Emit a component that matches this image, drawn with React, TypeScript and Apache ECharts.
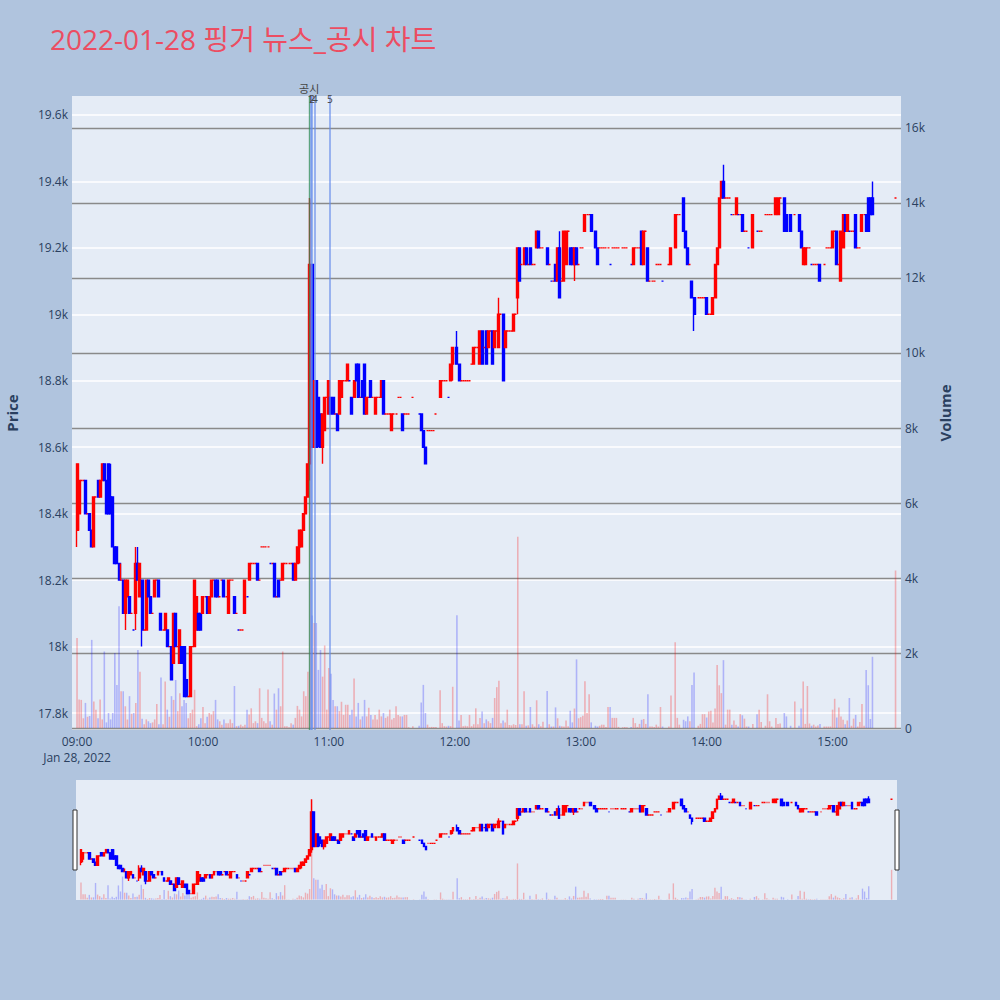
import React, { useEffect, useRef } from 'react';
import * as echarts from 'echarts';

const FONT = '"Open Sans", "Noto Sans CJK KR", sans-serif';

const chartTitle = '2022-01-28 핑거 뉴스_공시 차트';
const sessionDate = 'Jan 28, 2022';
const timeTicks = ['09:00', '10:00', '11:00', '12:00', '13:00', '14:00', '15:00'];
const priceTicks = [17800, 18000, 18200, 18400, 18600, 18800, 19000, 19200, 19400, 19600];
const volumeTicks = [0, 2000, 4000, 6000, 8000, 10000, 12000, 14000, 16000];

// one-minute bars: [time, open, close, low, high, volume]
type Bar = [string, number, number, number, number, number];

const bars0900: Bar[] = [
  ['09:00', 18350, 18550, 18300, 18550, 2400], ['09:01', 18400, 18500, 18350, 18500, 760],
  ['09:02', 18500, 18500, 18500, 18500, 750], ['09:03', 18500, 18500, 18500, 18500, 260],
  ['09:04', 18500, 18400, 18400, 18500, 670], ['09:05', 18400, 18400, 18400, 18400, 300],
  ['09:06', 18400, 18350, 18350, 18400, 320], ['09:07', 18350, 18300, 18300, 18350, 2350],
  ['09:08', 18300, 18450, 18300, 18450, 710], ['09:09', 18450, 18450, 18450, 18450, 490],
  ['09:10', 18500, 18450, 18450, 18500, 260], ['09:11', 18450, 18500, 18450, 18500, 760],
  ['09:12', 18500, 18550, 18500, 18550, 230], ['09:13', 18550, 18500, 18500, 18550, 2040],
  ['09:14', 18500, 18400, 18400, 18500, 150], ['09:15', 18550, 18400, 18400, 18550, 400],
  ['09:16', 18450, 18400, 18400, 18550, 230], ['09:17', 18450, 18300, 18300, 18450, 400],
  ['09:18', 18300, 18250, 18250, 18300, 2000], ['09:19', 18300, 18250, 18250, 18300, 1150],
  ['09:20', 18250, 18200, 18200, 18250, 3250], ['09:21', 18200, 18200, 18200, 18250, 980],
  ['09:22', 18200, 18100, 18100, 18200, 980], ['09:23', 18100, 18200, 18050, 18200, 580],
  ['09:24', 18150, 18200, 18150, 18200, 230], ['09:25', 18150, 18100, 18100, 18150, 850],
  ['09:26', 18100, 18100, 18100, 18100, 380], ['09:27', 18050, 18050, 18050, 18050, 400],
  ['09:28', 18100, 18250, 18050, 18300, 670], ['09:29', 18250, 18200, 18200, 18300, 2080],
  ['09:30', 18150, 18250, 18150, 18250, 1500], ['09:31', 18200, 18050, 18000, 18200, 250],
  ['09:32', 18050, 18050, 18050, 18050, 100], ['09:33', 18050, 18200, 18050, 18200, 230],
  ['09:34', 18200, 18150, 18150, 18200, 180], ['09:35', 18150, 18100, 18100, 18150, 130],
  ['09:36', 18100, 18100, 18100, 18100, 150], ['09:37', 18150, 18200, 18150, 18200, 230],
  ['09:38', 18200, 18200, 18200, 18200, 640], ['09:39', 18200, 18150, 18150, 18200, 100],
  ['09:40', 18100, 18050, 18050, 18100, 1350], ['09:41', 18050, 18050, 18050, 18050, 100],
  ['09:42', 18050, 18100, 18050, 18100, 1240], ['09:43', 18050, 18000, 18000, 18050, 490],
  ['09:44', 18000, 18000, 18000, 18000, 300], ['09:45', 18000, 17900, 17900, 18000, 850],
  ['09:46', 17950, 18100, 17950, 18100, 750], ['09:47', 18100, 18000, 18000, 18100, 1280],
  ['09:48', 18000, 18000, 18000, 18000, 450], ['09:49', 17950, 18050, 17950, 18050, 930],
  ['09:50', 18000, 17950, 17950, 18000, 580], ['09:51', 18000, 17850, 17850, 18000, 750],
  ['09:52', 17900, 17850, 17850, 17900, 670], ['09:53', 17850, 17850, 17850, 17850, 260],
  ['09:54', 17850, 18000, 17850, 18000, 400], ['09:55', 18000, 18000, 18000, 18000, 490],
  ['09:56', 18000, 18200, 18000, 18200, 1020], ['09:57', 18050, 18150, 18050, 18150, 50],
  ['09:58', 18100, 18050, 18050, 18100, 100], ['09:59', 18100, 18050, 18050, 18100, 260],
];

const bars1000: Bar[] = [
  ['10:00', 18100, 18150, 18100, 18150, 560], ['10:01', 18150, 18150, 18150, 18150, 130],
  ['10:02', 18150, 18100, 18100, 18150, 300], ['10:03', 18100, 18150, 18100, 18150, 400],
  ['10:04', 18150, 18200, 18150, 18200, 360], ['10:05', 18200, 18200, 18200, 18200, 450],
  ['10:06', 18200, 18150, 18150, 18200, 750], ['10:07', 18200, 18150, 18150, 18200, 230],
  ['10:08', 18150, 18150, 18150, 18150, 180], ['10:09', 18200, 18200, 18200, 18200, 90],
  ['10:10', 18200, 18150, 18150, 18200, 230], ['10:11', 18150, 18150, 18150, 18150, 130],
  ['10:12', 18100, 18200, 18100, 18200, 130], ['10:13', 18200, 18200, 18200, 18200, 230],
  ['10:14', 18200, 18200, 18200, 18200, 130], ['10:15', 18150, 18100, 18100, 18150, 1120],
  ['10:16', 18100, 18100, 18100, 18100, 50], ['10:17', 18050, 18050, 18050, 18050, 60],
  ['10:18', 18050, 18050, 18050, 18050, 90], ['10:19', 18050, 18050, 18050, 18050, 50],
  ['10:20', 18100, 18200, 18100, 18200, 90], ['10:21', 18150, 18150, 18150, 18150, 490],
  ['10:22', 18200, 18250, 18200, 18250, 360], ['10:23', 18250, 18250, 18250, 18250, 525],
  ['10:24', 18250, 18250, 18250, 18250, 130], ['10:25', 18250, 18250, 18250, 18250, 180],
  ['10:26', 18250, 18200, 18200, 18250, 130], ['10:27', 18200, 18200, 18200, 18200, 1060],
  ['10:28', 18300, 18300, 18300, 18300, 270], ['10:29', 18300, 18300, 18300, 18300, 180],
  ['10:30', 18300, 18300, 18300, 18300, 130], ['10:31', 18300, 18300, 18300, 18300, 1030],
  ['10:32', 18250, 18250, 18250, 18250, 180], ['10:33', 18250, 18250, 18250, 18250, 90],
  ['10:34', 18250, 18150, 18150, 18250, 920], ['10:35', 18150, 18150, 18150, 18150, 490],
  ['10:36', 18200, 18150, 18150, 18200, 1060], ['10:37', 18200, 18200, 18200, 18200, 580],
  ['10:38', 18200, 18250, 18200, 18250, 2040], ['10:39', 18250, 18250, 18250, 18250, 50],
  ['10:40', 18250, 18250, 18250, 18250, 50], ['10:41', 18250, 18250, 18250, 18250, 20],
  ['10:42', 18250, 18250, 18250, 18250, 130], ['10:43', 18250, 18200, 18200, 18250, 90],
  ['10:44', 18200, 18250, 18200, 18250, 270], ['10:45', 18250, 18300, 18250, 18300, 590],
  ['10:46', 18300, 18350, 18250, 18350, 490], ['10:47', 18300, 18350, 18300, 18350, 310],
  ['10:48', 18350, 18400, 18350, 18400, 980], ['10:49', 18400, 18450, 18400, 18450, 850],
  ['10:50', 18450, 18550, 18450, 18550, 1500], ['10:51', 18550, 19150, 18500, 19350, 14100],
  ['10:52', 19150, 18600, 18600, 19150, 3000], ['10:53', 18600, 18800, 18600, 18800, 2800],
  ['10:54', 18800, 18600, 18600, 18800, 2800], ['10:55', 18750, 18650, 18600, 18750, 1550],
  ['10:56', 18700, 18600, 18600, 18700, 2080], ['10:57', 18600, 18700, 18550, 18700, 1370],
  ['10:58', 18650, 18750, 18650, 18750, 2200], ['10:59', 18750, 18750, 18750, 18750, 490],
];

const bars1100: Bar[] = [
  ['11:00', 18700, 18800, 18700, 18800, 1600], ['11:01', 18750, 18700, 18700, 18750, 1450],
  ['11:02', 18750, 18700, 18700, 18750, 750], ['11:03', 18700, 18700, 18700, 18700, 580],
  ['11:04', 18700, 18650, 18650, 18700, 580], ['11:05', 18700, 18800, 18700, 18800, 450],
  ['11:06', 18750, 18800, 18750, 18800, 700], ['11:07', 18800, 18800, 18800, 18800, 350],
  ['11:08', 18800, 18800, 18800, 18800, 620], ['11:09', 18800, 18850, 18800, 18850, 620],
  ['11:10', 18800, 18800, 18800, 18800, 350], ['11:11', 18750, 18700, 18700, 18750, 490],
  ['11:12', 18750, 18800, 18750, 18800, 1320], ['11:13', 18850, 18800, 18800, 18850, 310],
  ['11:14', 18850, 18750, 18750, 18850, 670], ['11:15', 18750, 18750, 18750, 18750, 230],
  ['11:16', 18800, 18750, 18750, 18800, 310], ['11:17', 18850, 18700, 18700, 18850, 750],
  ['11:18', 18700, 18750, 18700, 18750, 310], ['11:19', 18750, 18750, 18750, 18750, 540],
  ['11:20', 18800, 18750, 18750, 18800, 350], ['11:21', 18750, 18750, 18750, 18750, 230],
  ['11:22', 18700, 18750, 18700, 18750, 350], ['11:23', 18750, 18750, 18750, 18750, 230],
  ['11:24', 18750, 18750, 18750, 18750, 490], ['11:25', 18750, 18800, 18750, 18800, 310],
  ['11:26', 18800, 18700, 18700, 18800, 400], ['11:27', 18700, 18700, 18700, 18700, 270],
  ['11:28', 18700, 18700, 18700, 18700, 310], ['11:29', 18700, 18700, 18700, 18700, 490],
  ['11:30', 18650, 18700, 18650, 18700, 230], ['11:31', 18700, 18700, 18700, 18700, 270],
  ['11:32', 18700, 18700, 18700, 18700, 580], ['11:33', 18750, 18750, 18750, 18750, 350],
  ['11:34', 18750, 18750, 18750, 18750, 310], ['11:35', 18700, 18650, 18650, 18700, 310],
  ['11:36', 18700, 18700, 18700, 18700, 350], ['11:37', 18700, 18700, 18700, 18700, 350],
  ['11:38', 18700, 18700, 18700, 18700, 20], ['11:40', 18750, 18750, 18750, 18750, 50],
  ['11:43', 18700, 18700, 18700, 18700, 60], ['11:44', 18700, 18650, 18650, 18700, 680],
  ['11:45', 18650, 18600, 18600, 18650, 1150], ['11:46', 18600, 18550, 18550, 18600, 400],
  ['11:47', 18650, 18650, 18650, 18650, 90], ['11:48', 18650, 18650, 18650, 18650, 20],
  ['11:49', 18650, 18650, 18650, 18650, 30], ['11:50', 18650, 18650, 18650, 18650, 30],
  ['11:51', 18700, 18700, 18700, 18700, 30], ['11:53', 18750, 18800, 18750, 18800, 1010],
  ['11:54', 18800, 18800, 18800, 18800, 130], ['11:55', 18800, 18800, 18800, 18800, 50],
  ['11:56', 18800, 18800, 18800, 18800, 40], ['11:57', 18750, 18750, 18750, 18750, 60],
  ['11:58', 18800, 18850, 18800, 18850, 50], ['11:59', 18850, 18900, 18800, 18900, 1100],
];

const bars1200: Bar[] = [
  ['12:01', 18900, 18850, 18850, 18950, 3010], ['12:02', 18850, 18800, 18800, 18850, 200],
  ['12:03', 18800, 18800, 18800, 18800, 350], ['12:04', 18800, 18800, 18800, 18800, 50],
  ['12:05', 18800, 18800, 18800, 18800, 60], ['12:06', 18800, 18800, 18800, 18800, 50],
  ['12:07', 18800, 18800, 18800, 18800, 350], ['12:08', 18850, 18850, 18850, 18850, 50],
  ['12:09', 18850, 18900, 18850, 18900, 100], ['12:10', 18900, 18900, 18900, 18900, 525],
  ['12:11', 18900, 18900, 18900, 18900, 100], ['12:12', 18850, 18950, 18850, 18950, 270],
  ['12:13', 18950, 18850, 18850, 18950, 440], ['12:14', 18900, 18900, 18900, 18900, 130],
  ['12:15', 18950, 18850, 18850, 18950, 230], ['12:16', 18900, 18950, 18900, 18950, 180],
  ['12:17', 18950, 18950, 18950, 18950, 130], ['12:18', 18950, 18850, 18850, 18950, 270],
  ['12:19', 18900, 18950, 18900, 18950, 800], ['12:20', 18950, 18950, 18950, 18950, 1090],
  ['12:21', 18900, 19000, 18900, 19050, 1260], ['12:22', 19000, 19000, 19000, 19000, 130],
  ['12:23', 19000, 18800, 18800, 19000, 200], ['12:24', 18900, 18950, 18900, 18950, 150],
  ['12:25', 18950, 18950, 18950, 18950, 490], ['12:26', 18950, 18950, 18950, 18950, 80],
  ['12:27', 18950, 18950, 18950, 18950, 70], ['12:28', 18950, 19000, 18950, 19000, 100],
  ['12:29', 19000, 19000, 19000, 19000, 80], ['12:30', 19050, 19200, 19000, 19200, 5100],
  ['12:31', 19200, 19100, 19100, 19200, 100], ['12:32', 19150, 19150, 19150, 19150, 100],
  ['12:33', 19150, 19200, 19150, 19200, 980], ['12:34', 19200, 19150, 19150, 19200, 60],
  ['12:35', 19150, 19150, 19150, 19150, 70], ['12:36', 19200, 19150, 19150, 19200, 560],
  ['12:37', 19150, 19150, 19150, 19150, 100], ['12:38', 19150, 19150, 19150, 19150, 40],
  ['12:39', 19200, 19250, 19200, 19250, 740], ['12:40', 19250, 19200, 19200, 19250, 100],
  ['12:41', 19200, 19200, 19200, 19200, 50], ['12:42', 19200, 19200, 19200, 19200, 170],
  ['12:44', 19200, 19150, 19150, 19200, 990], ['12:45', 19150, 19150, 19150, 19150, 100],
  ['12:46', 19100, 19100, 19100, 19100, 40], ['12:47', 19100, 19100, 19100, 19100, 40],
  ['12:48', 19150, 19100, 19100, 19150, 550], ['12:49', 19100, 19200, 19100, 19200, 260],
  ['12:50', 19200, 19050, 19050, 19250, 60], ['12:51', 19100, 19100, 19100, 19100, 50],
  ['12:52', 19100, 19250, 19100, 19250, 40], ['12:53', 19150, 19250, 19150, 19250, 200],
  ['12:54', 19250, 19250, 19250, 19250, 50], ['12:55', 19200, 19150, 19150, 19200, 460],
  ['12:56', 19200, 19150, 19150, 19200, 150], ['12:57', 19150, 19200, 19100, 19200, 520],
  ['12:58', 19200, 19150, 19150, 19200, 1830], ['12:59', 19150, 19150, 19150, 19150, 260],
];

const bars1300: Bar[] = [
  ['13:00', 19200, 19200, 19200, 19200, 290], ['13:01', 19200, 19200, 19200, 19200, 330],
  ['13:02', 19250, 19300, 19250, 19300, 1250], ['13:03', 19300, 19300, 19300, 19300, 400],
  ['13:04', 19300, 19300, 19300, 19300, 900], ['13:05', 19300, 19250, 19250, 19300, 150],
  ['13:07', 19250, 19200, 19200, 19250, 60], ['13:08', 19200, 19150, 19150, 19200, 40],
  ['13:09', 19200, 19200, 19200, 19200, 60], ['13:10', 19200, 19200, 19200, 19200, 90],
  ['13:11', 19200, 19200, 19200, 19200, 90], ['13:12', 19200, 19200, 19200, 19200, 30],
  ['13:13', 19200, 19200, 19200, 19200, 560], ['13:14', 19150, 19150, 19150, 19150, 560],
  ['13:15', 19200, 19200, 19200, 19200, 270], ['13:16', 19200, 19200, 19200, 19200, 270],
  ['13:17', 19200, 19200, 19200, 19200, 270], ['13:18', 19200, 19200, 19200, 19200, 30],
  ['13:20', 19200, 19200, 19200, 19200, 20], ['13:21', 19200, 19200, 19200, 19200, 30],
  ['13:22', 19200, 19200, 19200, 19200, 20], ['13:24', 19150, 19150, 19150, 19150, 30],
  ['13:25', 19150, 19200, 19150, 19200, 270], ['13:26', 19200, 19200, 19200, 19200, 130],
  ['13:27', 19200, 19200, 19200, 19200, 30], ['13:28', 19200, 19200, 19200, 19200, 110],
  ['13:29', 19250, 19150, 19150, 19250, 220], ['13:30', 19150, 19250, 19150, 19250, 240],
  ['13:31', 19250, 19250, 19250, 19250, 110], ['13:32', 19200, 19100, 19100, 19200, 900],
  ['13:33', 19100, 19100, 19100, 19100, 40], ['13:34', 19100, 19100, 19100, 19100, 40],
  ['13:35', 19100, 19100, 19100, 19100, 30], ['13:36', 19150, 19150, 19150, 19150, 90],
  ['13:37', 19150, 19150, 19150, 19150, 40], ['13:38', 19150, 19150, 19150, 19150, 560],
  ['13:39', 19100, 19100, 19100, 19100, 40], ['13:42', 19150, 19150, 19150, 19150, 40],
  ['13:43', 19150, 19200, 19150, 19200, 870], ['13:45', 19200, 19300, 19200, 19300, 2290],
  ['13:46', 19300, 19300, 19300, 19300, 270], ['13:47', 19300, 19300, 19300, 19300, 90],
  ['13:49', 19350, 19250, 19250, 19350, 220], ['13:50', 19250, 19200, 19200, 19250, 180],
  ['13:51', 19200, 19150, 19150, 19200, 310], ['13:52', 19150, 19150, 19150, 19150, 180],
  ['13:53', 19100, 19050, 19050, 19100, 1150], ['13:54', 19050, 19000, 18950, 19050, 1480],
  ['13:56', 19050, 19050, 19050, 19050, 60], ['13:57', 19050, 19050, 19050, 19050, 110],
  ['13:58', 19050, 19050, 19050, 19050, 370], ['13:59', 19050, 19050, 19050, 19050, 370],
];

const bars1400: Bar[] = [
  ['14:00', 19050, 19000, 19000, 19050, 280], ['14:01', 19000, 19000, 19000, 19000, 440],
  ['14:02', 19000, 19000, 19000, 19000, 460], ['14:03', 19000, 19050, 19000, 19050, 150],
  ['14:04', 19050, 19150, 19050, 19150, 520], ['14:05', 19150, 19200, 19150, 19200, 1680],
  ['14:06', 19200, 19350, 19200, 19350, 1140], ['14:07', 19350, 19400, 19350, 19400, 930],
  ['14:08', 19400, 19350, 19350, 19450, 1810], ['14:09', 19350, 19350, 19350, 19350, 90],
  ['14:10', 19350, 19350, 19350, 19350, 490], ['14:11', 19350, 19350, 19350, 19350, 490],
  ['14:12', 19300, 19300, 19300, 19300, 90], ['14:13', 19300, 19300, 19300, 19300, 200],
  ['14:14', 19300, 19350, 19300, 19350, 90], ['14:15', 19300, 19300, 19300, 19300, 40],
  ['14:16', 19300, 19300, 19300, 19300, 370], ['14:17', 19300, 19250, 19250, 19300, 340],
  ['14:18', 19250, 19250, 19250, 19250, 250], ['14:19', 19250, 19250, 19250, 19250, 40],
  ['14:20', 19200, 19200, 19200, 19200, 40], ['14:22', 19200, 19300, 19200, 19300, 110],
  ['14:24', 19250, 19250, 19250, 19250, 370], ['14:25', 19250, 19250, 19250, 19250, 490],
  ['14:26', 19250, 19250, 19250, 19250, 160], ['14:28', 19300, 19300, 19300, 19300, 60],
  ['14:29', 19300, 19300, 19300, 19300, 900], ['14:30', 19300, 19300, 19300, 19300, 180],
  ['14:31', 19300, 19300, 19300, 19300, 40], ['14:33', 19300, 19350, 19300, 19350, 270],
  ['14:34', 19300, 19350, 19300, 19350, 110], ['14:35', 19350, 19350, 19350, 19350, 120],
  ['14:37', 19350, 19250, 19250, 19350, 400], ['14:38', 19300, 19250, 19250, 19300, 310],
  ['14:40', 19300, 19250, 19250, 19300, 60], ['14:42', 19300, 19300, 19300, 19300, 710],
  ['14:44', 19300, 19250, 19250, 19300, 60], ['14:45', 19250, 19200, 19200, 19250, 520],
  ['14:46', 19150, 19200, 19150, 19200, 1240], ['14:47', 19150, 19200, 19150, 19200, 110],
  ['14:48', 19200, 19200, 19200, 19200, 1120], ['14:49', 19200, 19200, 19200, 19200, 120],
  ['14:50', 19150, 19150, 19150, 19150, 60], ['14:51', 19150, 19150, 19150, 19150, 90],
  ['14:52', 19150, 19150, 19150, 19150, 40], ['14:53', 19150, 19150, 19150, 19150, 70],
  ['14:54', 19150, 19100, 19100, 19150, 110], ['14:56', 19150, 19150, 19150, 19150, 40],
  ['14:57', 19200, 19200, 19200, 19200, 40], ['14:58', 19200, 19200, 19200, 19200, 40],
  ['14:59', 19200, 19200, 19200, 19200, 40],
];

const bars1500: Bar[] = [
  ['15:00', 19200, 19250, 19200, 19250, 490], ['15:01', 19250, 19250, 19250, 19250, 780],
  ['15:02', 19250, 19150, 19150, 19250, 280], ['15:03', 19150, 19150, 19150, 19150, 550],
  ['15:04', 19100, 19250, 19100, 19250, 310], ['15:05', 19200, 19300, 19200, 19300, 220],
  ['15:06', 19300, 19250, 19250, 19300, 100], ['15:07', 19250, 19300, 19250, 19300, 200],
  ['15:08', 19250, 19250, 19250, 19250, 800], ['15:09', 19250, 19250, 19250, 19250, 60],
  ['15:10', 19250, 19250, 19250, 19250, 250], ['15:11', 19300, 19200, 19200, 19300, 350],
  ['15:12', 19200, 19200, 19200, 19200, 40], ['15:13', 19200, 19200, 19200, 19200, 160],
  ['15:14', 19250, 19300, 19250, 19300, 640], ['15:15', 19300, 19300, 19300, 19300, 60],
  ['15:16', 19300, 19250, 19250, 19300, 1550], ['15:17', 19350, 19250, 19250, 19350, 1140],
  ['15:18', 19350, 19300, 19300, 19350, 240], ['15:19', 19350, 19300, 19300, 19400, 1900],
  ['15:30', 19350, 19350, 19350, 19350, 4200],
];

// disclosure / news markers
const eventTimes = ['10:50:36', '10:51:12', '10:52:00', '10:53:18', '11:00:30'];
const eventLabels = ['공시', '1', '2', '4', '5'];
const eventKinds = ['disclosure', 'news', 'news', 'news', 'news'];

const UP = '#ff0000';
const DOWN = '#0000ff';
const VOL_UP = 'rgba(255,0,0,0.26)';
const VOL_DOWN = 'rgba(0,0,255,0.24)';
const INK = '#2a3f5f';

const X_MIN = -2.4;
const X_MAX = 392.6;
const P_MIN = 17749;
const P_MAX = 19657;
const V_MIN = -53;
const V_MAX = 16853;

function toMinutes(t: string): number {
  const [h, m, s] = t.split(':').map(Number);
  return (h - 9) * 60 + m + (s || 0) / 60;
}

function kFormat(v: number): string {
  if (v === 0) return '0';
  return `${+(v / 1000).toFixed(1)}k`;
}

function buildOption() {
  const bars = [...bars0900, ...bars1000, ...bars1100, ...bars1200, ...bars1300, ...bars1400, ...bars1500];

  const candleData = bars.map(([t, o, c, l, h]) => [toMinutes(t), o, c, l, h]);
  const volumeData = bars.map(([t, o, c, , , v], i) => {
    const prevClose = i > 0 ? bars[i - 1][2] : c;
    const up = c > o || (c === o && c >= prevClose);
    return { value: [toMinutes(t), v], itemStyle: { color: up ? VOL_UP : VOL_DOWN } };
  });

  const tickMinutes = timeTicks.map(toMinutes);

  const eventLines = eventTimes.map((t, i) => {
    const disclosure = eventKinds[i] === 'disclosure';
    return {
      xAxis: toMinutes(t),
      lineStyle: {
        color: disclosure ? 'rgba(46,139,87,0.75)' : 'rgba(100,140,235,0.6)',
        width: disclosure ? 1.4 : 2,
        type: 'solid',
      },
      label: {
        show: true,
        position: 'end',
        formatter: eventLabels[i],
        color: '#444',
        fontSize: disclosure ? 11 : 10,
        fontFamily: FONT,
        distance: disclosure ? 2 : -8,
      },
    };
  });

  const candleStyle = {
    color: UP,
    color0: DOWN,
    borderColor: UP,
    borderColor0: DOWN,
    borderWidth: 1.4,
  };

  return {
    animation: false,
    backgroundColor: '#b0c4de',
    textStyle: { fontFamily: FONT },
    title: {
      text: chartTitle,
      left: 45,
      top: 20,
      textStyle: { color: '#ec4d62', fontSize: 28, fontWeight: 'normal', fontFamily: FONT },
    },
    grid: [
      {
        left: 72, top: 96, width: 829, height: 634,
        show: true, backgroundColor: '#e5ecf6', borderWidth: 0,
        containLabel: false, outerBoundsMode: 'none',
      },
      {
        left: 76, top: 780, width: 821, height: 120,
        show: true, backgroundColor: '#e5ecf6', borderWidth: 0,
        containLabel: false, outerBoundsMode: 'none',
      },
    ],
    xAxis: [
      {
        type: 'value',
        gridIndex: 0,
        min: X_MIN,
        max: X_MAX,
        axisLine: { show: false },
        axisTick: { show: false, customValues: tickMinutes },
        splitLine: { show: false },
        axisLabel: {
          customValues: tickMinutes,
          color: INK,
          fontSize: 12,
          margin: 3,
          lineHeight: 16,
          formatter: (v: number) => {
            const i = tickMinutes.indexOf(v);
            const txt = i >= 0 ? timeTicks[i] : '';
            return i === 0 ? `${txt}\n${sessionDate}` : txt;
          },
        },
      },
      { type: 'value', gridIndex: 1, min: X_MIN, max: X_MAX, show: false },
    ],
    yAxis: [
      {
        type: 'value',
        gridIndex: 0,
        position: 'left',
        min: P_MIN,
        max: P_MAX,
        name: 'Price',
        nameLocation: 'middle',
        nameRotate: 90,
        nameGap: 53,
        nameTextStyle: { color: INK, fontSize: 15, fontWeight: 'bold' },
        axisLine: { show: false },
        axisTick: { show: false, customValues: priceTicks },
        axisLabel: { customValues: priceTicks, color: INK, fontSize: 12, margin: 4, formatter: kFormat },
        splitLine: { show: true, lineStyle: { color: '#ffffff', width: 1.5 } },
      },
      {
        type: 'value',
        gridIndex: 0,
        position: 'right',
        min: V_MIN,
        max: V_MAX,
        name: 'Volume',
        nameLocation: 'middle',
        nameRotate: 90,
        nameGap: 36,
        nameTextStyle: { color: INK, fontSize: 15, fontWeight: 'bold' },
        axisLine: { show: false },
        axisTick: { show: false, customValues: volumeTicks },
        axisLabel: { customValues: volumeTicks, color: INK, fontSize: 12, margin: 4, formatter: kFormat },
        splitLine: { show: true, lineStyle: { color: '#8a8a8a', width: 1.3 } },
      },
      { type: 'value', gridIndex: 1, min: P_MIN, max: P_MAX, show: false },
      { type: 'value', gridIndex: 1, min: V_MIN, max: V_MAX, show: false },
    ],
    graphic: [
      {
        type: 'rect',
        shape: { x: 73, y: 810, width: 4, height: 60 },
        style: { fill: '#ffffff', stroke: '#333', lineWidth: 1 },
        z: 100,
      },
      {
        type: 'rect',
        shape: { x: 895, y: 810, width: 4, height: 60 },
        style: { fill: '#ffffff', stroke: '#333', lineWidth: 1 },
        z: 100,
      },
    ],
    series: [
      {
        name: 'Volume',
        type: 'bar',
        xAxisIndex: 0,
        yAxisIndex: 1,
        barWidth: 1.6,
        data: volumeData,
        silent: true,
        z: 1,
      },
      {
        name: 'Price',
        type: 'candlestick',
        xAxisIndex: 0,
        yAxisIndex: 0,
        barWidth: 2.5,
        encode: { x: 0, y: [1, 2, 3, 4] },
        data: candleData,
        itemStyle: candleStyle,
        silent: true,
        z: 3,
        markLine: {
          symbol: ['none', 'none'],
          silent: true,
          animation: false,
          data: eventLines,
        },
      },
      {
        name: 'Volume overview',
        type: 'bar',
        xAxisIndex: 1,
        yAxisIndex: 3,
        barWidth: 1.4,
        data: volumeData,
        silent: true,
        z: 1,
      },
      {
        name: 'Price overview',
        type: 'candlestick',
        xAxisIndex: 1,
        yAxisIndex: 2,
        barWidth: 2.2,
        encode: { x: 0, y: [1, 2, 3, 4] },
        data: candleData,
        itemStyle: candleStyle,
        silent: true,
        z: 3,
      },
    ],
  };
}

export default function App() {
  const ref = useRef<HTMLDivElement>(null);
  useEffect(() => {
    if (!ref.current) return;
    const chart = echarts.init(ref.current, undefined, { renderer: 'svg' });
    chart.setOption(buildOption() as any);
    return () => chart.dispose();
  }, []);
  return (
    <div
      ref={ref}
      style={{ position: 'absolute', left: 0, top: 0, width: 1000, height: 1000 }}
    />
  );
}
